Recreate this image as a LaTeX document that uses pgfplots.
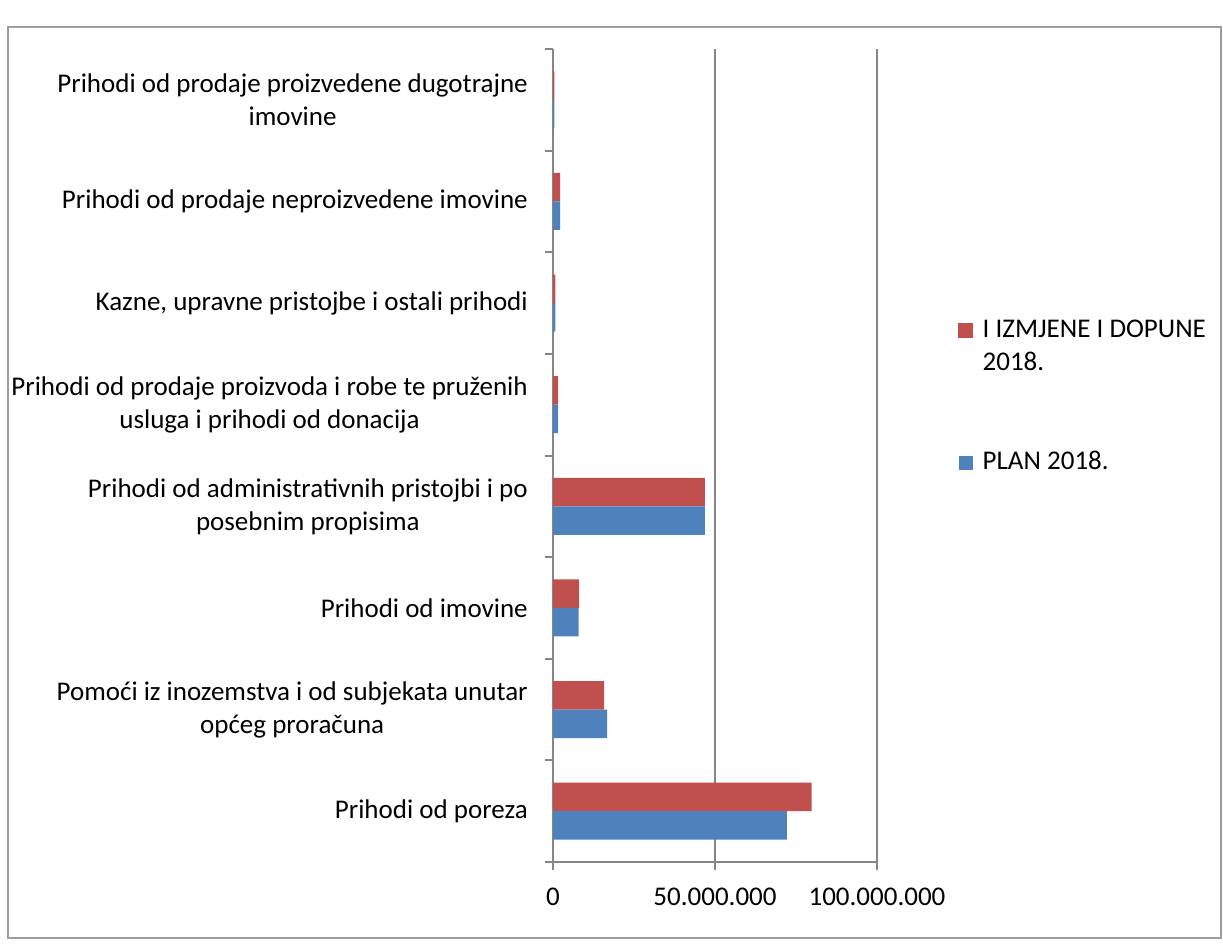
\documentclass[border=0pt]{standalone}
\usepackage{pgfplots}
\pgfplotsset{compat=1.18}
\usepackage{fontspec}
\setmainfont{Carlito}
\definecolor{planblue}{HTML}{4F81BD}
\definecolor{izmred}{HTML}{C0504D}
\definecolor{axisgray}{HTML}{868686}
\begin{document}
\fontsize{20.25}{24.75}\selectfont
\begin{tikzpicture}
\path[use as bounding box] (0,0) rectangle (917.25pt,707.25pt);
\draw[axisgray!80, line width=1.5pt] (6pt,3.75pt) rectangle (915.75pt,687pt);
\begin{axis}[
    at={(414.75pt,60.75pt)}, anchor=south west,
    scale only axis, width=243pt, height=609.75pt,
    xbar,
    xmin=0, xmax=100000000,
    ymin=-0.5, ymax=7.5,
    xtick={0,50000000,100000000},
    xticklabels={0,50.000.000,100.000.000},
    xticklabel style={yshift=-6.5pt},
    scaled x ticks=false,
    ytick={-0.5,0.5,...,7.5},
    yticklabels={
        Prihodi od poreza,
        Pomoći iz inozemstva i od subjekata unutar\\općeg proračuna,
        Prihodi od imovine,
        Prihodi od administrativnih pristojbi i po\\posebnim propisima,
        Prihodi od prodaje proizvoda i robe te pruženih\\usluga i prihodi od donacija,
        {Kazne, upravne pristojbe i ostali prihodi},
        Prihodi od prodaje neproizvedene imovine,
        Prihodi od prodaje proizvedene dugotrajne\\imovine,
        {}},
    y tick label as interval,
    yticklabel style={align=center, xshift=-6pt},
    axis x line*=bottom, axis y line*=left,
    axis line style={axisgray, line width=1.5pt},
    tick align=outside,
    major tick length=6pt,
    tick style={axisgray, line width=1.5pt},
    xmajorgrids,
    major grid style={axisgray, line width=1.5pt},
    legend style={at={(1.238,0.6735)}, anchor=north west, draw=none, fill=none,
        row sep=53.5pt, cells={anchor=west, align=left},
        nodes={inner xsep=7.3pt}},
    legend cell align=left,
    legend image code/.code={\fill[#1] (0pt,-5.25pt) rectangle (10.5pt,5.25pt);},
]
\addplot[fill=izmred, draw=none, bar width=0.28, bar shift=0.14, forget plot]
coordinates {
    (79800000,0) (15800000,1) (8100000,2) (46900000,3)
    (1600000,4) (700000,5) (2200000,6) (400000,7)
};
\addlegendimage{legend image code/.code={\fill[izmred] (0pt,7.25pt) rectangle (10.5pt,17.75pt);}}
\addlegendentry{I IZMJENE I DOPUNE\\2018.}
\addplot[fill=planblue, draw=none, bar width=0.28, bar shift=-0.14]
coordinates {
    (72200000,0) (16700000,1) (7900000,2) (46900000,3)
    (1600000,4) (700000,5) (2200000,6) (400000,7)
};
\addlegendentry{PLAN 2018.}
\end{axis}
\end{tikzpicture}
\end{document}
